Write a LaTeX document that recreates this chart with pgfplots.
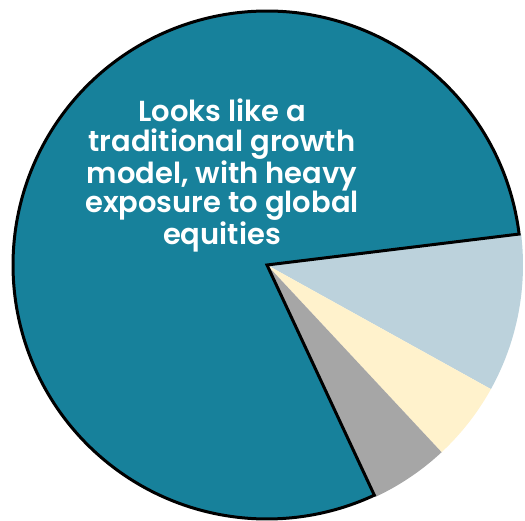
\documentclass[border=0pt]{standalone}
\usepackage{fontspec}
\setmainfont{Poppins}[BoldFont={Poppins SemiBold}]
\usepackage{pgfplots}
\usepackage{pgfplotstable}
\pgfplotsset{compat=1.18}
\definecolor{cTeal}{HTML}{17819B}
\definecolor{cBlue}{HTML}{BCD2DC}
\definecolor{cCream}{HTML}{FFF2CC}
\definecolor{cGray}{HTML}{A6A6A6}
\pgfplotstableread{
label value
Equities 80
Bonds 10
Alternatives 5
Cash 5
}\piedata
\begin{document}
\begin{tikzpicture}
\pgfplotstablegetelem{0}{value}\of\piedata \pgfmathsetmacro{\vA}{\pgfplotsretval}
\pgfplotstablegetelem{1}{value}\of\piedata \pgfmathsetmacro{\vB}{\pgfplotsretval}
\pgfplotstablegetelem{2}{value}\of\piedata \pgfmathsetmacro{\vC}{\pgfplotsretval}
\pgfplotstablegetelem{3}{value}\of\piedata \pgfmathsetmacro{\vD}{\pgfplotsretval}
\pgfmathsetmacro{\sA}{7}
\pgfmathsetmacro{\sB}{\sA-3.6*\vB}
\pgfmathsetmacro{\sC}{\sB-3.6*\vC}
\pgfmathsetmacro{\sD}{\sC-3.6*\vD}
\pgfmathsetmacro{\sE}{\sD-3.6*\vA}
\begin{axis}[
  scale only axis, width=525bp, height=520bp,
  xmin=0, xmax=525, ymin=0, ymax=520,
  hide axis, clip=false,
]
\path (rel axis cs:0,0) rectangle (rel axis cs:1,1);
\addplot[fill=cBlue, draw=none, domain=\sB:\sA, samples=60, variable=\t]
  ({267+256*cos(t)}, {255+256*sin(t)}) -- (axis cs:267,255) -- cycle;
\addplot[fill=cCream, draw=none, domain=\sC:\sB, samples=40, variable=\t]
  ({267+256*cos(t)}, {255+256*sin(t)}) -- (axis cs:267,255) -- cycle;
\addplot[fill=cGray, draw=none, domain=\sD:\sC, samples=40, variable=\t]
  ({267+256*cos(t)}, {255+256*sin(t)}) -- (axis cs:267,255) -- cycle;
\addplot[fill=cTeal, draw=black, line width=3bp, line join=miter, domain=\sE:\sD, samples=300, variable=\t]
  ({267+254*cos(t)}, {255+254*sin(t)}) -- (axis cs:267,255) -- cycle;
\node[anchor=north, align=center, text=white, inner sep=0pt,
  font=\bfseries\fontsize{29bp}{29.5bp}\selectfont] at (axis cs:222,421)
  {Looks like a\\traditional growth\\model, with heavy\\exposure to global\\equities};
\end{axis}
\end{tikzpicture}
\end{document}
